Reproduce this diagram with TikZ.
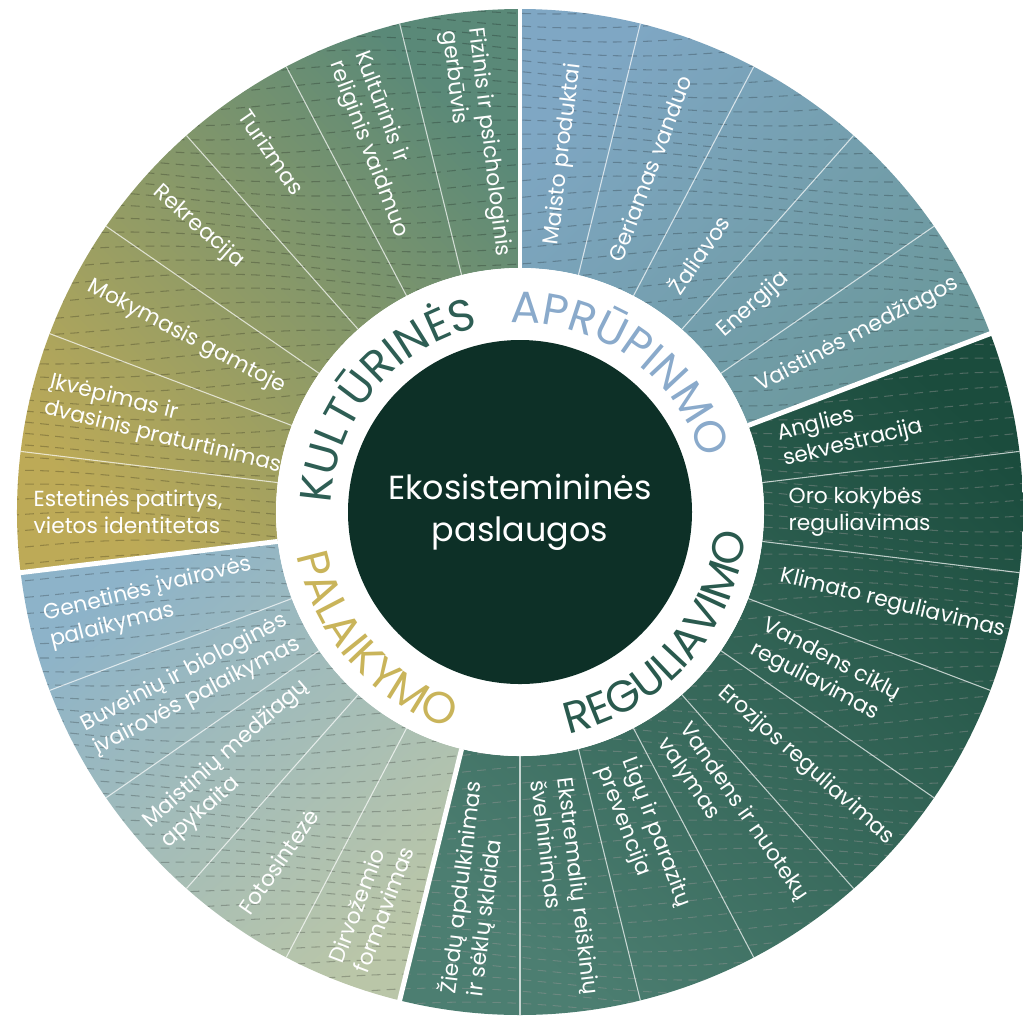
\documentclass[tikz,border=0pt]{standalone}
\usepackage{fontspec}
\setmainfont{Poppins}
\usetikzlibrary{decorations.text}
\definecolor{coreGreen}{HTML}{0D3027}
\definecolor{kulYellow}{HTML}{BDAA57}
\definecolor{kulOlive}{HTML}{8C9A6B}
\definecolor{kulTeal}{HTML}{5A8978}
\definecolor{aprBlue}{HTML}{7FA7C4}
\definecolor{aprTeal}{HTML}{6B989B}
\definecolor{regDark}{HTML}{1B4C3D}
\definecolor{regMid}{HTML}{4C7E71}
\definecolor{palBlue}{HTML}{8DB3C9}
\definecolor{palSage}{HTML}{BAC6A8}
\definecolor{kulText}{HTML}{2E5E54}
\definecolor{aprText}{HTML}{8AAACB}
\definecolor{regText}{HTML}{2A5A4E}
\definecolor{palText}{HTML}{C9B45A}
\newcommand{\ringsize}{\fontsize{12.6}{14}\selectfont}
% annular sector of the outer band
\newcommand{\sectorpath}[2]{(#1:2.44) arc[start angle=#1, end angle=#2, radius=2.44] -- (#2:5.03) arc[start angle=#2, end angle=#1, radius=5.03] -- cycle}
\tikzset{%
	seglabel/.style  = {text=white, font=\fontsize{6.2}{7.6}\selectfont, align=left, inner sep=0pt},
	minorline/.style = {white, line width=0.3pt, opacity=0.7},
	majorline/.style = {white, line width=1.4pt},
	grain/.style     = {line width=0.3pt, dash pattern=on 2.5pt off 1.8pt},
	ringlabel/.style = {decorate, decoration={text along path, text align=center, text color=#1}},
}
\begin{document}
\begin{tikzpicture}
	\useasboundingbox (-5.20,-5.06) rectangle (5.03,5.12);
	% category bands
	\shade[top color=kulTeal, middle color=kulOlive, bottom color=kulYellow, shading angle=-45] \sectorpath{90}{186.92};
	\shade[top color=aprBlue, bottom color=aprTeal, shading angle=45] \sectorpath{20.77}{90};
	\shade[top color=regDark, bottom color=regMid, shading angle=-42] \sectorpath{-103.85}{20.77};
	\shade[top color=palBlue, bottom color=palSage, shading angle=41] \sectorpath{186.92}{256.15};
	% grain texture
	\begin{scope}
		\clip (0,0) circle (5.03);
		\foreach \yy in {-5.0,-4.86,...,5.1}
			\draw[grain, black, opacity=0.22] plot[domain=-5.1:5.1, samples=35, smooth] (\x, {\yy+0.10*sin(60*\x+120*\yy)});
	\end{scope}
	\begin{scope}
		\clip \sectorpath{-103.85}{20.77};
		\foreach \yy in {-5.0,-4.86,...,5.1}
			\draw[grain, white, opacity=0.25] plot[domain=-5.1:5.1, samples=35, smooth] (\x, {\yy+0.10*sin(60*\x+120*\yy)});
	\end{scope}
	% segment borders
	\foreach \k in {1,...,25}
		\draw[minorline] ({90-\k*360/26}:2.44) -- ({90-\k*360/26}:5.03);
	\foreach \k in {0,5,14,19}
		\draw[majorline] ({90-\k*360/26}:2.44) -- ({90-\k*360/26}:5.1);
	\fill[white] (0,0) circle (2.44);
	\node[circle, fill=coreGreen, minimum size=3.44cm, inner sep=0pt, text=white, align=center, font=\fontsize{9.5}{12}\selectfont] (core) at (0,0) {Ekosistemininės\\paslaugos};
	% ring labels
	\path[ringlabel=kulText, decoration={text={|\ringsize|KULTŪRINĖS}}] (200:1.89) arc[start angle=200, end angle=80, radius=1.89];
	\path[ringlabel=aprText, decoration={text={|\ringsize|APRŪPINMO}}] (114.5:1.89) arc[start angle=114.5, end angle=-5.5, radius=1.89];
	\path[ringlabel=regText, decoration={text={|\ringsize|REGULIAVIMO}}] (-101.5:2.27) arc[start angle=-101.5, end angle=18.5, radius=2.27];
	\path[ringlabel=palText, decoration={text={|\ringsize|PALAIKYMO}}] (161.5:2.27) arc[start angle=161.5, end angle=281.5, radius=2.27];
	% segment labels
	\foreach \k/\txt in {0/Maisto produktai, 1/Geriamas vanduo, 2/Žaliavos, 3/Energija, 4/Vaistinės medžiagos,
		5/Anglies\\sekvestracija, 6/Oro kokybės\\reguliavimas, 7/Klimato reguliavimas, 8/Vandens ciklų\\reguliavimas,
		9/Erozijos reguliavimas, 10/Vandens ir nuotekų\\valymas, 11/Ligų ir parazitų\\prevencija,
		12/Ekstremalių reiškinių\\švelninimas, 13/Žiedų apdulkinimas\\ir sėklų sklaida,
		14/Dirvožemio\\formavimas, 15/Fotosintezė, 16/Maistinių medžiagų\\apykaita,
		17/Buveinių ir biologinės\\įvairovės palaikymas, 18/Genetinės įvairovės\\palaikymas,
		19/{Estetinės patirtys,\\vietos identitetas}, 20/Įkvėpimas ir\\dvasinis praturtinimas,
		21/Mokymasis gamtoje, 22/Rekreacija, 23/Turizmas, 24/Kultūrinis ir\\religinis vaidmuo,
		25/Fizinis ir psichologinis\\gerbūvis}{
		\pgfmathsetmacro\ang{90-(\k+0.5)*360/26}
		\pgfmathsetmacro\flip{cos(\ang)<0}
		\ifdim\flip pt>0.5pt
			\node[seglabel, rotate=\ang+180, anchor=west] (s\k) at (\ang:4.87) {\txt};
		\else
			\node[seglabel, rotate=\ang, anchor=west] (s\k) at (\ang:2.68) {\txt};
		\fi
	}
\end{tikzpicture}
\end{document}
